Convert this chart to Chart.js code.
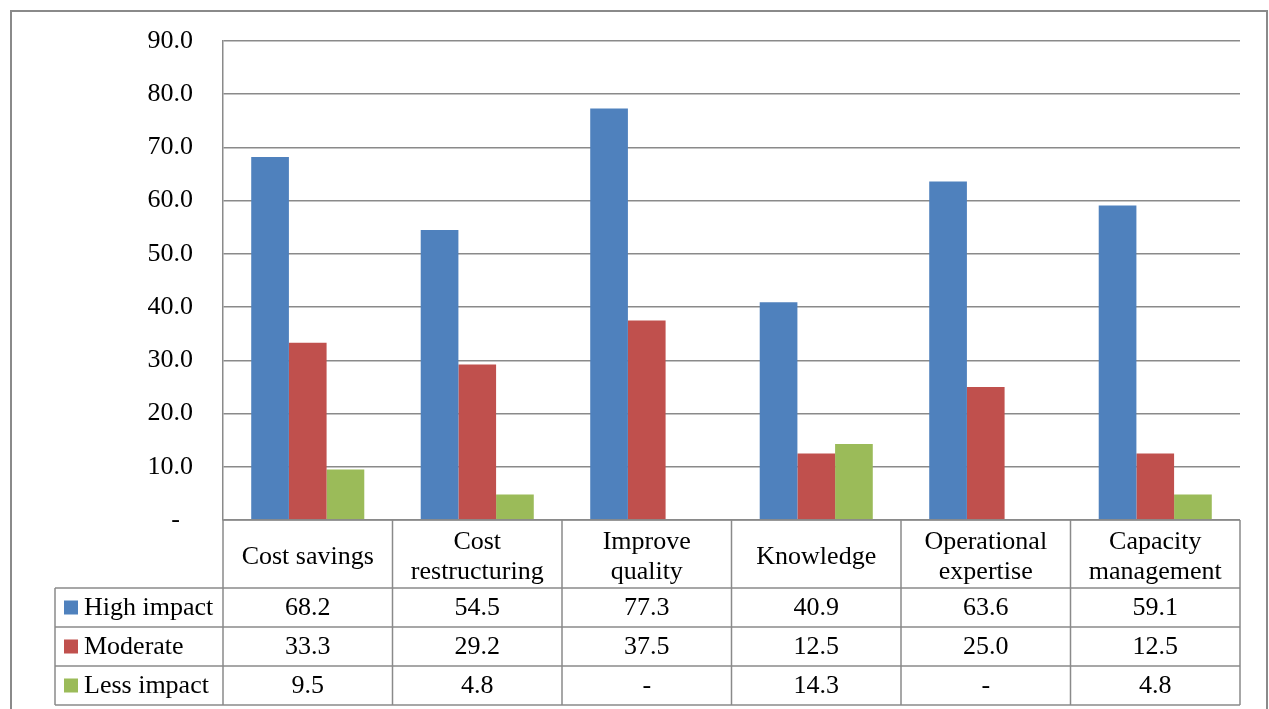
<!DOCTYPE html>
<html>
<head>
<meta charset="utf-8">
<title>Impact by area</title>
<script src="https://cdn.jsdelivr.net/npm/chart.js@4.4.1/dist/chart.umd.min.js"></script>
<style>
    html, body { margin: 0; padding: 0; background: #fff; }
    #wrap { position: relative; width: 1269px; height: 709px; overflow: hidden; }
</style>
</head>
<body>
<div id="wrap">
    <canvas id="impactChart" width="1269" height="709"></canvas>
</div>
<script>
// Survey results per area (percent)
const categories = [
    ['Cost savings'],
    ['Cost', 'restructuring'],
    ['Improve', 'quality'],
    ['Knowledge'],
    ['Operational', 'expertise'],
    ['Capacity', 'management']
];
const seriesNames = ['High impact', 'Moderate', 'Less impact'];
const highImpact = [68.2, 54.5, 77.3, 40.9, 63.6, 59.1];
const moderate = [33.3, 29.2, 37.5, 12.5, 25.0, 12.5];
const lessImpact = [9.5, 4.8, 0, 14.3, 0, 4.8];
const yTicks = [0, 10, 20, 30, 40, 50, 60, 70, 80, 90];

const seriesColors = ['#4F81BD', '#C0504D', '#9BBB59'];
const lineColor = '#8a8a8a';
const fontFamily = "'Liberation Serif', 'Times New Roman', serif";
const fontSize = 26;

function fmt(v) {
    return v === 0 ? '-' : v.toFixed(1);
}

// Draws the data table under the plot (category names, legend keys and values)
const dataTablePlugin = {
    id: 'dataTable',
    afterDraw(chart) {
        const ctx = chart.ctx;
        const area = chart.chartArea;
        const n = categories.length;
        const colW = (area.right - area.left) / n;
        const headTop = area.bottom;
        const headBottom = area.bottom + 68;
        const rowH = 39;
        const legendLeft = 55;
        const tableBottom = headBottom + rowH * seriesNames.length;

        ctx.save();
        ctx.strokeStyle = lineColor;
        ctx.lineWidth = 1.5;

        // horizontal lines
        ctx.beginPath();
        ctx.moveTo(area.left, headTop);
        ctx.lineTo(area.right, headTop);
        for (let r = 0; r <= seriesNames.length; r++) {
            const y = headBottom + r * rowH;
            ctx.moveTo(legendLeft, y);
            ctx.lineTo(area.right, y);
        }
        // vertical lines
        for (let c = 0; c <= n; c++) {
            const x = area.left + c * colW;
            ctx.moveTo(x, headTop);
            ctx.lineTo(x, tableBottom);
        }
        ctx.moveTo(legendLeft, headBottom);
        ctx.lineTo(legendLeft, tableBottom);
        ctx.stroke();

        ctx.fillStyle = '#000';
        ctx.font = fontSize + 'px ' + fontFamily;
        ctx.textAlign = 'center';
        ctx.textBaseline = 'middle';

        // category header row
        categories.forEach((lines, i) => {
            const cx = area.left + (i + 0.5) * colW;
            const cy = (headTop + headBottom) / 2 + 3;
            const lh = 30;
            lines.forEach((t, j) => {
                ctx.fillText(t, cx, cy + (j - (lines.length - 1) / 2) * lh);
            });
        });

        // series rows
        const rows = [highImpact, moderate, lessImpact];
        rows.forEach((vals, r) => {
            const cy = headBottom + (r + 0.5) * rowH;
            vals.forEach((v, i) => {
                ctx.fillText(fmt(v), area.left + (i + 0.5) * colW, cy + 1);
            });
            ctx.fillStyle = seriesColors[r];
            ctx.fillRect(legendLeft + 9, cy - 7, 14, 14);
            ctx.fillStyle = '#000';
            ctx.textAlign = 'left';
            ctx.fillText(seriesNames[r], legendLeft + 29, cy + 1);
            ctx.textAlign = 'center';
        });

        // outer frame
        ctx.strokeStyle = lineColor;
        ctx.lineWidth = 2;
        ctx.strokeRect(11, 11, 1256, 720);
        ctx.restore();
    }
};

new Chart(document.getElementById('impactChart'), {
    type: 'bar',
    data: {
        labels: categories,
        datasets: [
            { label: seriesNames[0], data: highImpact, backgroundColor: seriesColors[0] },
            { label: seriesNames[1], data: moderate, backgroundColor: seriesColors[1] },
            { label: seriesNames[2], data: lessImpact, backgroundColor: seriesColors[2] }
        ]
    },
    options: {
        responsive: false,
        animation: false,
        devicePixelRatio: 1,
        layout: {
            padding: { left: 0, top: 41, right: 29, bottom: 189 }
        },
        datasets: {
            bar: {
                categoryPercentage: 0.667,
                barPercentage: 1.0,
                borderWidth: 0
            }
        },
        plugins: {
            legend: { display: false },
            tooltip: { enabled: false }
        },
        scales: {
            x: {
                display: false
            },
            y: {
                min: 0,
                max: 90,
                afterFit(scale) {
                    // fixed axis width; layout padding alone sets the plot top/bottom
                    scale.width = 223;
                    scale.paddingTop = 0;
                    scale.paddingBottom = 0;
                },
                afterBuildTicks(scale) {
                    scale.ticks = yTicks.map(v => ({ value: v }));
                },
                grid: {
                    color: lineColor,
                    lineWidth: 1.5,
                    drawTicks: false
                },
                border: {
                    display: true,
                    color: lineColor,
                    width: 1.5
                },
                ticks: {
                    padding: 30,
                    color: '#000',
                    font: { family: fontFamily, size: fontSize },
                    callback: v => v === 0 ? '-  ' : v.toFixed(1)
                }
            }
        }
    },
    plugins: [dataTablePlugin]
});
</script>
</body>
</html>
